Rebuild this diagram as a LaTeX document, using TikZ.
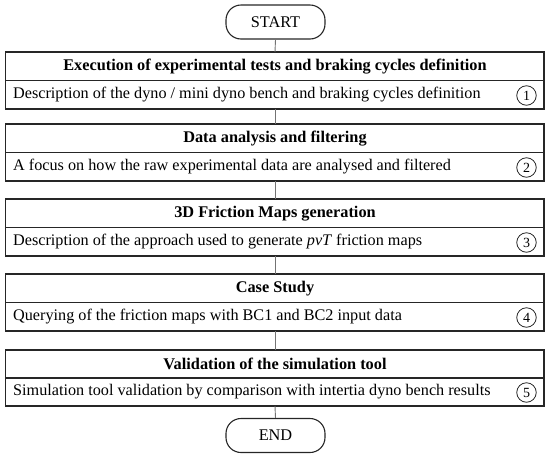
\documentclass[tikz,border=0pt]{standalone}
\usepackage{fontspec}
\setmainfont{Liberation Serif}
\begin{document}
\begin{tikzpicture}[x=1pt,y=-1pt,
  boxline/.style={draw=black!85, line width=1.1pt},
  conn/.style={draw=black!55, line width=0.9pt},
  term/.style={boxline, rounded corners=15pt, minimum width=99pt, minimum height=34pt, inner sep=0pt, font=\fontsize{16.3}{18}\selectfont},
  titletext/.style={font=\fontsize{16.3}{18}\selectfont\bfseries, inner sep=0pt},
  desctext/.style={font=\fontsize{16.2}{18}\selectfont, inner sep=0pt, anchor=west},
  numcirc/.style={circle, draw=black!85, line width=0.8pt, minimum size=19.5pt, inner sep=0pt, font=\fontsize{14}{14}\selectfont}
]
\useasboundingbox (0,0) rectangle (550,456);

\node[term] (start) at (275.5,22) {START};
\node[term] (end) at (275.5,435.5) {END};

% boxes: top, divider, bottom
\foreach \n/\t/\d/\b in {1/52/80.5/109, 2/124/152.5/181, 3/199/227.5/256, 4/274/302.5/331, 5/350/378/406}{
  \draw[boxline] (5.5,\t) rectangle (544,\b);
  \draw[boxline] (5.5,\d) -- (544,\d);
  \coordinate (top\n) at (275,\t);
  \coordinate (bot\n) at (275,\b);
}

\node[titletext] (t1) at (275,66.5) {Execution of experimental tests and braking cycles definition};
\node[desctext] (d1) at (13,95) {Description of the dyno / mini dyno bench and braking cycles definition};
\node[numcirc] (n1) at (526.5,95.5) {1};

\node[titletext] (t2) at (275,138.5) {Data analysis and filtering};
\node[desctext] (d2) at (13,167) {A focus on how the raw experimental data are analysed and filtered};
\node[numcirc] (n2) at (526.5,167.5) {2};

\node[titletext] (t3) at (275,213.5) {3D Friction Maps generation};
\node[desctext] (d3) at (13,242) {Description of the approach used to generate \textit{pvT} friction maps};
\node[numcirc] (n3) at (526.5,242.5) {3};

\node[titletext] (t4) at (275,288.5) {Case Study};
\node[desctext] (d4) at (13,317) {Querying of the friction maps with BC1 and BC2 input data};
\node[numcirc] (n4) at (526.5,317.5) {4};

\node[titletext] (t5) at (275,364) {Validation of the simulation tool};
\node[desctext] (d5) at (13,392) {Simulation tool validation by comparison with intertia dyno bench results};
\node[numcirc] (n5) at (526.5,392.5) {5};

\draw[conn] (start.south) -- (top1);
\draw[conn] (bot1) -- (top2);
\draw[conn] (bot2) -- (top3);
\draw[conn] (bot3) -- (top4);
\draw[conn] (bot4) -- (top5);
\draw[conn] (bot5) -- (end.north);
\end{tikzpicture}
\end{document}
